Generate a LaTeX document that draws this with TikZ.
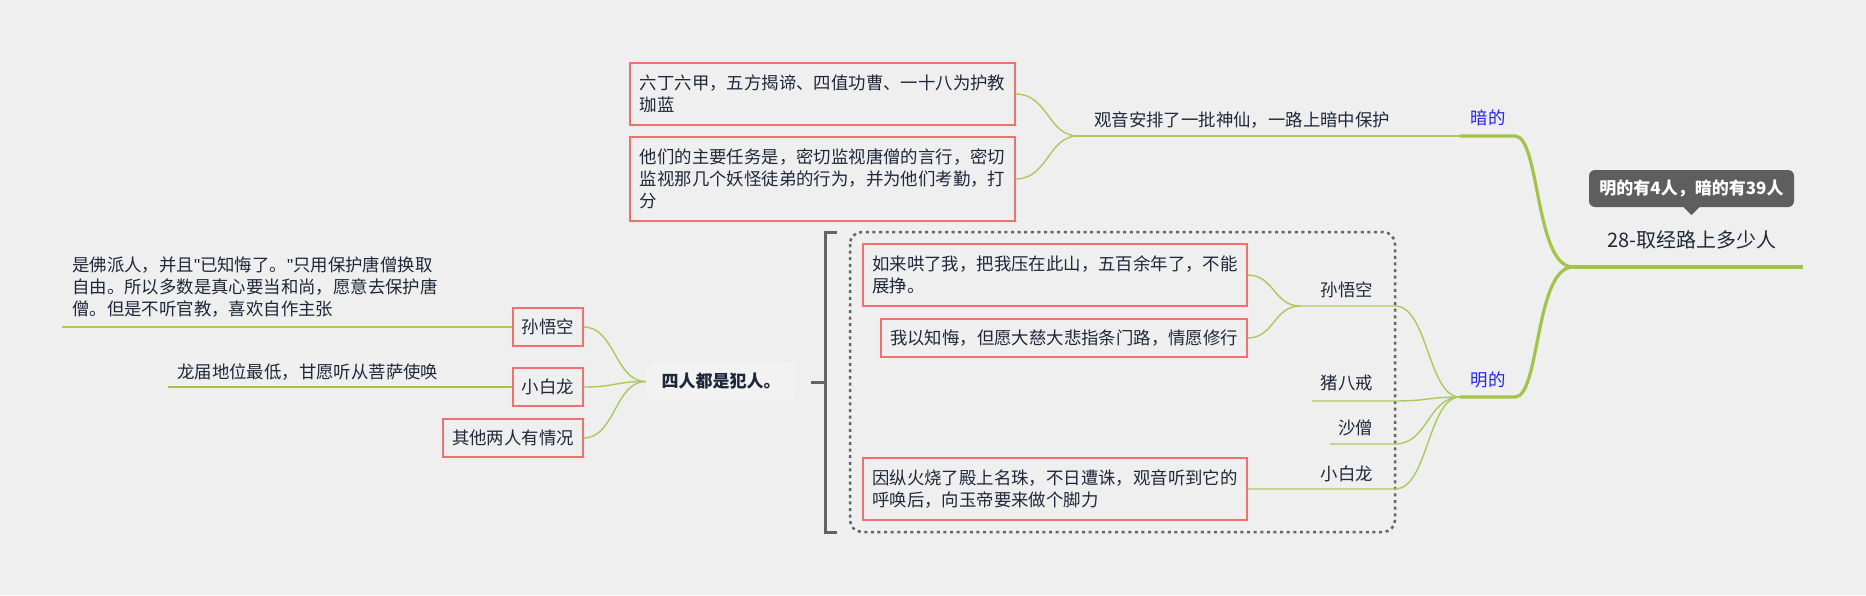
\documentclass[tikz,border=0pt]{standalone}
\usepackage{fontspec}
\setmainfont{Noto Sans CJK SC}
\newfontfamily\latinq{Liberation Sans}
\definecolor{bg}{RGB}{239,239,239}
\definecolor{nodebg}{RGB}{242,242,242}
\definecolor{boxred}{RGB}{240,112,112}
\definecolor{txt}{RGB}{30,40,58}
\definecolor{grn}{RGB}{163,196,72}
\definecolor{grnl}{RGB}{172,202,92}
\definecolor{blu}{RGB}{36,36,235}
\definecolor{gry}{RGB}{100,100,100}
\definecolor{callout}{RGB}{94,94,94}
\newcommand\fs{\fontsize{17.4}{22}\selectfont}
\newcommand\sq{{\latinq\char"0022}}
\begin{document}
\begin{tikzpicture}[x=1pt,y=-1pt,
  box/.style={draw=boxred, line width=1.3pt, align=left, inner sep=0pt, font=\fs, text=txt},
  lbl/.style={font=\fs, text=txt, inner sep=0pt},
  blbl/.style={font=\fs, text=blu, inner sep=0pt},
  thinline/.style={draw=grnl, line width=1.4pt},
  thickline/.style={draw=grn, line width=3.2pt},
  brk/.style={draw=gry, line width=3pt},
  dotgroup/.style={draw=gry, line width=2.5pt, dash pattern=on 3pt off 3.6pt, rounded corners=12pt}
]
\useasboundingbox (0,0) rectangle (1866,595);
\fill[bg] (0,0) rectangle (1866,595);

% ---------- root ----------
\node[lbl, font=\fontsize{20}{24}\selectfont, anchor=base] (root) at (1692,247) {28-取经路上多少人};
\coordinate (rj) at (1573,267);
\coordinate (rend) at (1803,267);
\draw[thickline] (rj) -- (rend);

% callout
\node[fill=callout, rounded corners=6pt, minimum width=205pt, minimum height=37pt, inner sep=0pt,
      text=white, font=\bfseries\fontsize{17}{20}\selectfont] (note) at (1691.5,188.5) {明的有4人，暗的有39人};
\fill[callout] ([xshift=-8pt]note.south) -- ([xshift=8pt]note.south) -- ([yshift=-8pt]note.south) -- cycle;

% ---------- 暗的 branch ----------
\node[blbl, anchor=base] (an) at (1488,124.5) {暗的};
\coordinate (aj) at (1460,136);
\coordinate (ae) at (1515,136);
\draw[thickline] (aj) -- (ae) .. controls (1540,136) and (1535,267) .. (rj);

\coordinate (gj) at (1078,136);
\node[lbl, anchor=base west] (guanyin) at (1094,126) {观音安排了一批神仙，一路上暗中保护};
\draw[thinline] (gj) -- (aj);

\node[box, minimum width=385pt, minimum height=62pt] (b1) at (822.5,94) {六丁六甲，五方揭谛、四值功曹、一十八为护教\\珈蓝};
\node[box, minimum width=385pt, minimum height=84pt] (b2) at (822.5,179) {他们的主要任务是，密切监视唐僧的言行，密切\\监视那几个妖怪徒弟的行为，并为他们考勤，打\\分};
\draw[thinline] (b1.east) .. controls (1048,94) and (1048,136) .. (gj);
\draw[thinline] (b2.east) .. controls (1048,179) and (1048,136) .. (gj);

% ---------- 明的 branch ----------
\node[blbl, anchor=base] (ming) at (1488,386.5) {明的};
\coordinate (mj) at (1460,397);
\coordinate (me) at (1515,397);
\draw[thickline] (mj) -- (me) .. controls (1540,397) and (1535,267) .. (rj);

% dotted group and bracket
\draw[dotgroup] (850,232) rectangle (1395,532);
\draw[brk] (837,232) -- (825,232) -- (825,532) -- (837,532);
\draw[brk] (811,382) -- (825,382);

\node[box, minimum width=384pt, minimum height=62pt] (b3) at (1055,275) {如来哄了我，把我压在此山，五百余年了，不能\\展挣。};
\node[box, minimum width=366pt, minimum height=38pt] (b4) at (1064,338) {我以知悔，但愿大慈大悲指条门路，情愿修行};
\node[box, minimum width=384pt, minimum height=62pt] (b5) at (1055,489) {因纵火烧了殿上名珠，不日遭诛，观音听到它的\\呼唤后，向玉帝要来做个脚力};

% right labels
\node[lbl, anchor=base east] (swkR) at (1373,296.5) {孙悟空};
\node[lbl, anchor=base east] (zbj) at (1373,389.5) {猪八戒};
\node[lbl, anchor=base east] (ss) at (1373,434.5) {沙僧};
\node[lbl, anchor=base east] (xblR) at (1373,480.5) {小白龙};

\coordinate (swj) at (1300,306);
\coordinate (swe) at (1395,306);
\coordinate (zbs) at (1312,401);
\coordinate (zbe) at (1395,401);
\coordinate (sss) at (1330,444);
\coordinate (sse) at (1395,444);
\coordinate (xbe) at (1395,489);

\draw[thinline] (b3.east) .. controls (1274,275) and (1274,306) .. (swj);
\draw[thinline] (b4.east) .. controls (1274,338) and (1274,306) .. (swj);
\draw[thinline] (swj) -- (swe) .. controls (1428,306) and (1428,397) .. (mj);
\draw[thinline] (zbs) -- (zbe) .. controls (1428,401) and (1428,397) .. (mj);
\draw[thinline] (sss) -- (sse) .. controls (1428,444) and (1428,397) .. (mj);
\draw[thinline] (b5.east) -- (xbe) .. controls (1428,489) and (1428,397) .. (mj);

% ---------- left part ----------
\node[fill=nodebg, rounded corners=8pt, minimum width=150pt, minimum height=37pt, inner sep=0pt,
      font=\bfseries\fontsize{17}{20}\selectfont, text=txt] (four) at (721,381.5) {四人都是犯人。};

\node[box, minimum width=70pt, minimum height=38pt] (swkL) at (548,327) {孙悟空};
\node[box, minimum width=70pt, minimum height=38pt] (xblL) at (548,387) {小白龙};
\node[box, minimum width=140pt, minimum height=38pt] (qt) at (513,438) {其他两人有情况};

\draw[thinline] (four.west) .. controls (615,381.5) and (615,327) .. (swkL.east);
\draw[thinline] (four.west) .. controls (615,381.5) and (615,387) .. (xblL.east);
\draw[thinline] (four.west) .. controls (615,381.5) and (615,438) .. (qt.east);

\node[lbl, anchor=base west] (swkT) at (72,271.5) {是佛派人，并且\sq 已知悔了。\sq 只用保护唐僧换取};
\node[lbl, anchor=base west] (swkT2) at (72,293.5) {自由。所以多数是真心要当和尚，愿意去保护唐};
\node[lbl, anchor=base west] (swkT3) at (72,315.5) {僧。但是不听官教，喜欢自作主张};
\coordinate (swl) at (62,327);
\draw[thinline] (swl) -- (swkL.west);

\node[lbl, anchor=base west] (xblT) at (177,378) {龙届地位最低，甘愿听从菩萨使唤};
\coordinate (xbl) at (168,387);
\draw[thinline, draw=grn, line width=2pt] (xbl) -- (xblL.west);
\end{tikzpicture}
\end{document}
